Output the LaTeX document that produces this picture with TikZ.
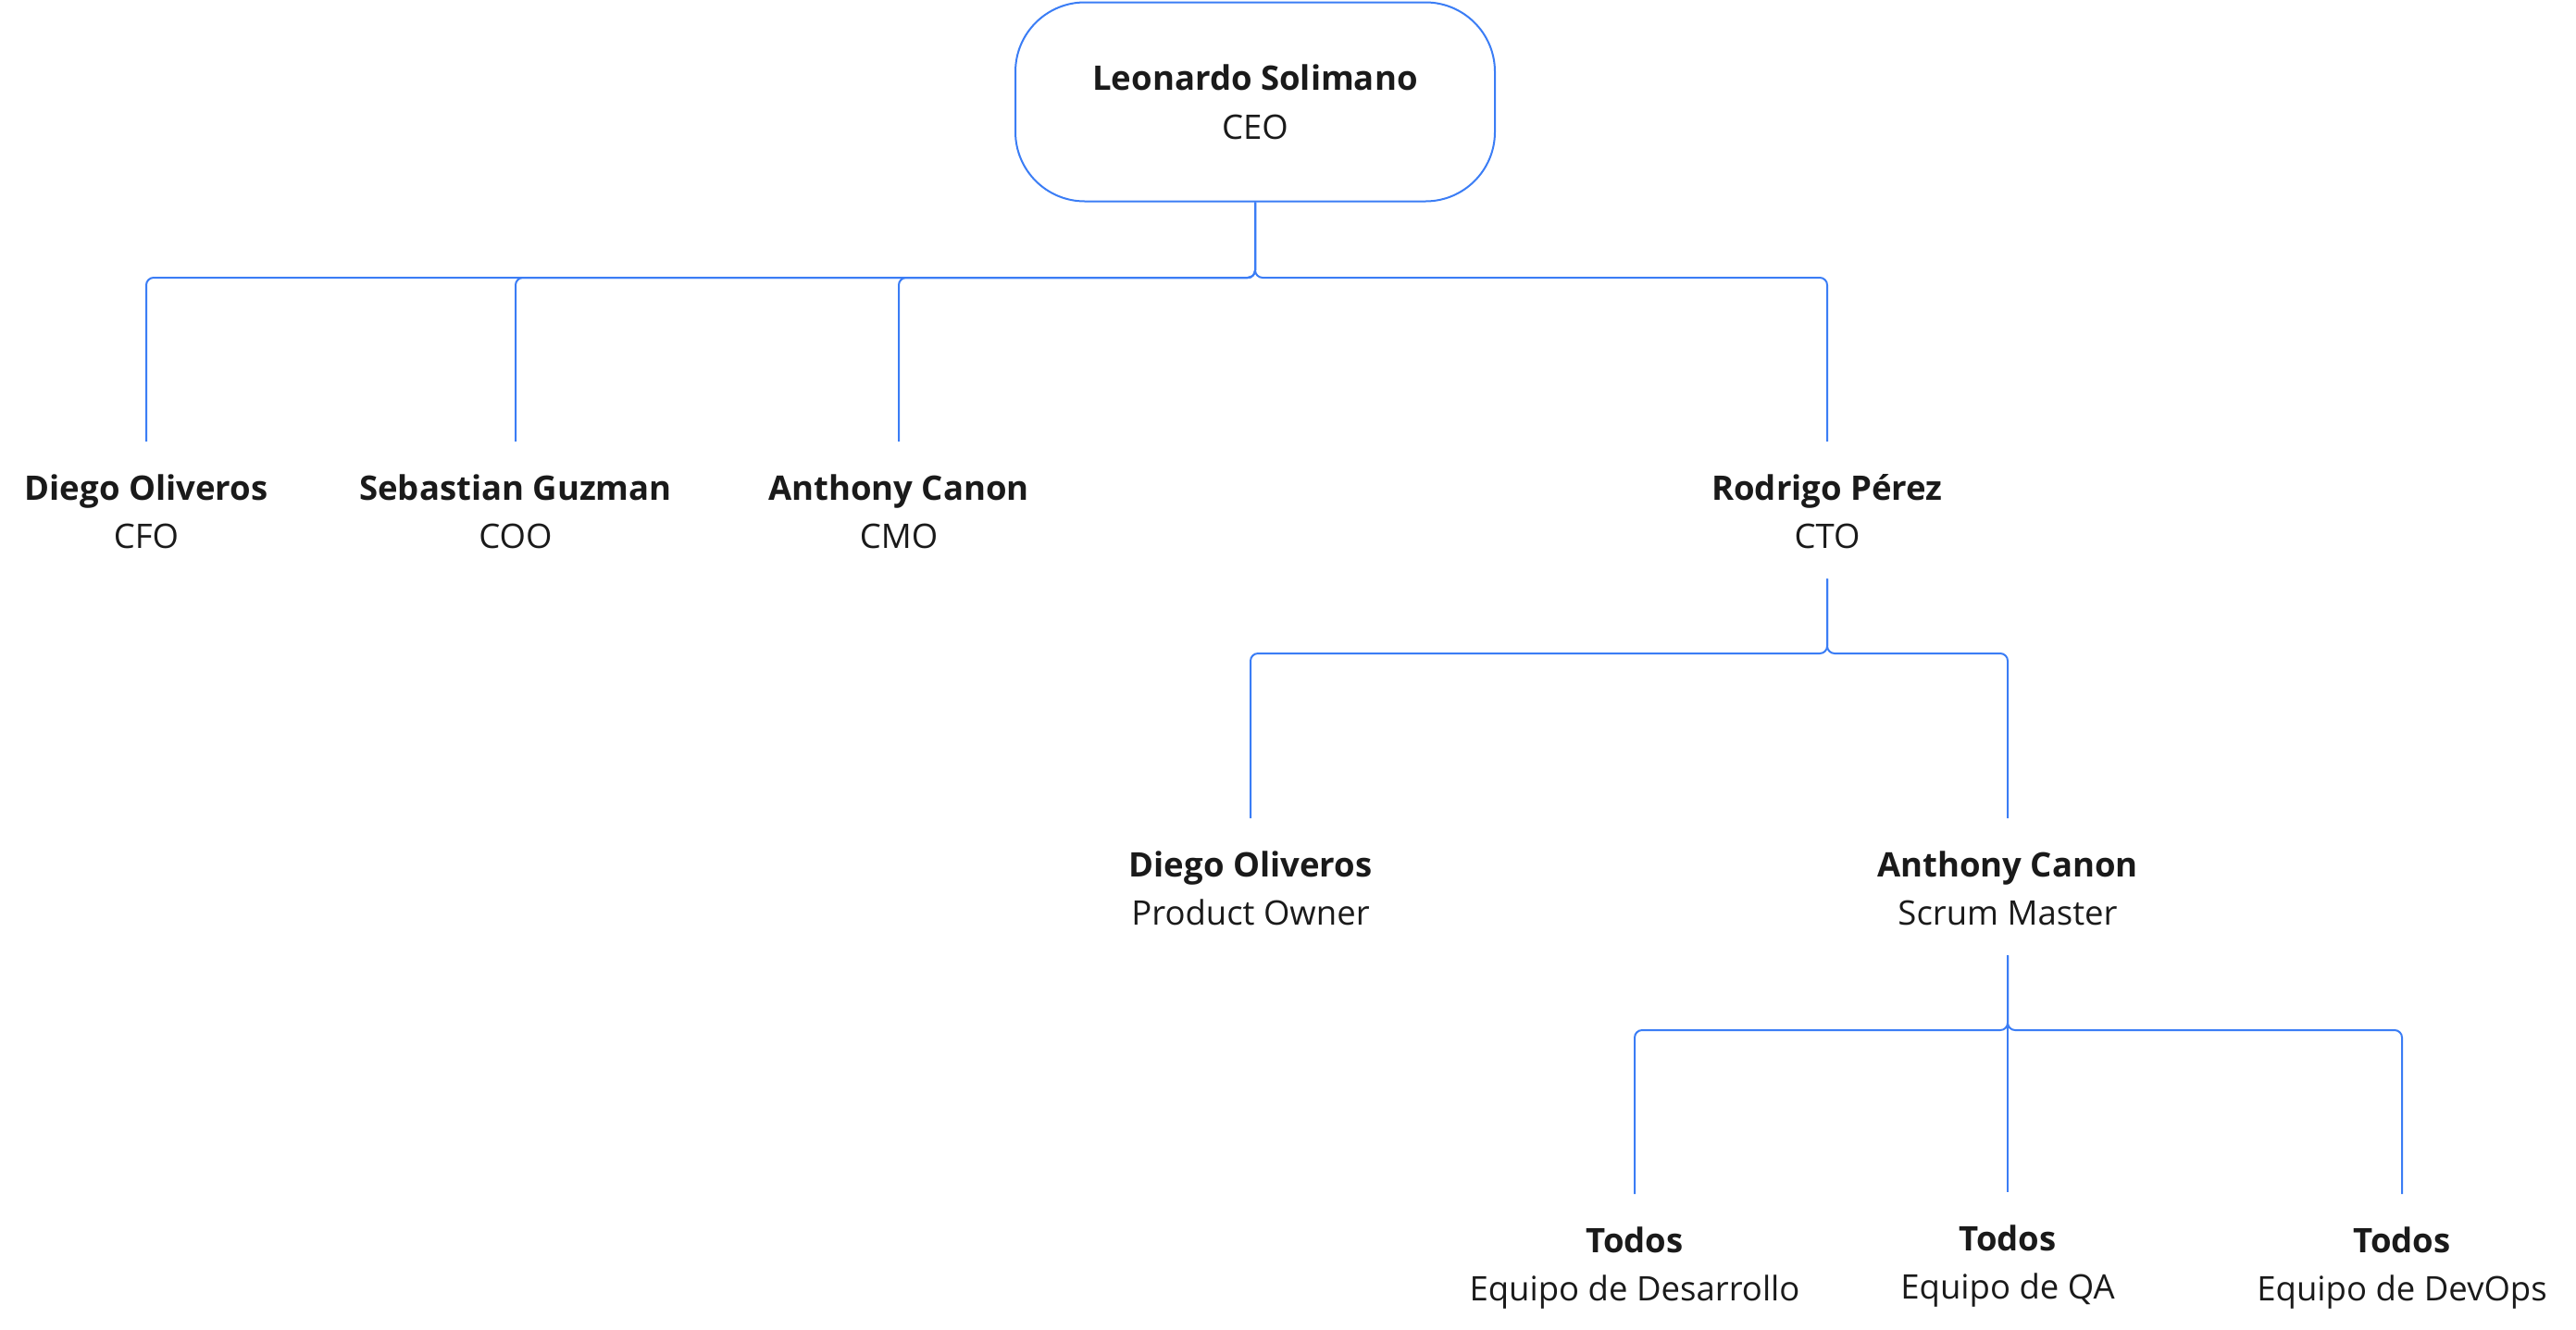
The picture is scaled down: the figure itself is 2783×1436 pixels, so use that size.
\documentclass[tikz,border=0pt]{standalone}
\usepackage{fontspec}
\setmainfont{Open Sans}
\definecolor{conncol}{RGB}{59,125,245}
\definecolor{txtcol}{RGB}{26,26,26}
\newcommand{\person}[2]{\rule{0pt}{63pt}\textbf{#1}\\#2\rule[-33pt]{0pt}{33pt}}
\tikzset{
  person/.style={anchor=north, inner sep=0pt, align=center, text=txtcol,
    font=\fontsize{36.5}{52}\selectfont},
  ceobox/.style={draw=conncol, line width=2pt, rounded corners=75pt,
    minimum width=518pt, minimum height=215pt, align=center, text=txtcol,
    inner sep=0pt, font=\fontsize{36.5}{53}\selectfont},
  conn/.style={draw=conncol, line width=2pt, rounded corners=8pt}
}
\begin{document}
\begin{tikzpicture}[x=1pt,y=-1pt]
\useasboundingbox (0,0) rectangle (2783,1436);
\node[ceobox] (ceo) at (1356,110) {\textbf{Leonardo Solimano}\\CEO};
\node[person] (cfo) at (158,477) {\person{Diego Oliveros}{CFO}};
\node[person] (coo) at (557,477) {\person{Sebastian Guzman}{COO}};
\node[person] (cmo) at (971,477) {\person{Anthony Canon}{CMO}};
\node[person] (cto) at (1974,477) {\person{Rodrigo Pérez}{CTO}};
\node[person] (po) at (1351,884) {\person{Diego Oliveros}{Product Owner}};
\node[person] (sm) at (2169,884) {\person{Anthony Canon}{Scrum Master}};
\node[person] (dev) at (1766,1290) {\person{Todos}{Equipo de Desarrollo}};
\node[person] (qa) at (2169,1288) {\person{Todos}{Equipo de QA}};
\node[person] (ops) at (2595,1290) {\person{Todos}{Equipo de DevOps}};
\coordinate (busA) at (0,300);
\coordinate (busB) at (0,706);
\coordinate (busC) at (0,1113);
\draw[conn] (ceo.south) -- (ceo.south |- busA) -| (cfo.north);
\draw[conn] (ceo.south) -- (ceo.south |- busA) -| (coo.north);
\draw[conn] (ceo.south) -- (ceo.south |- busA) -| (cmo.north);
\draw[conn] (ceo.south) -- (ceo.south |- busA) -| (cto.north);
\draw[conn] (cto.south) -- (cto.south |- busB) -| (po.north);
\draw[conn] (cto.south) -- (cto.south |- busB) -| (sm.north);
\draw[conn] (sm.south) -- (sm.south |- busC) -| (dev.north);
\draw[conn] (sm.south) -- (qa.north);
\draw[conn] (sm.south) -- (sm.south |- busC) -| (ops.north);
\end{tikzpicture}
\end{document}
